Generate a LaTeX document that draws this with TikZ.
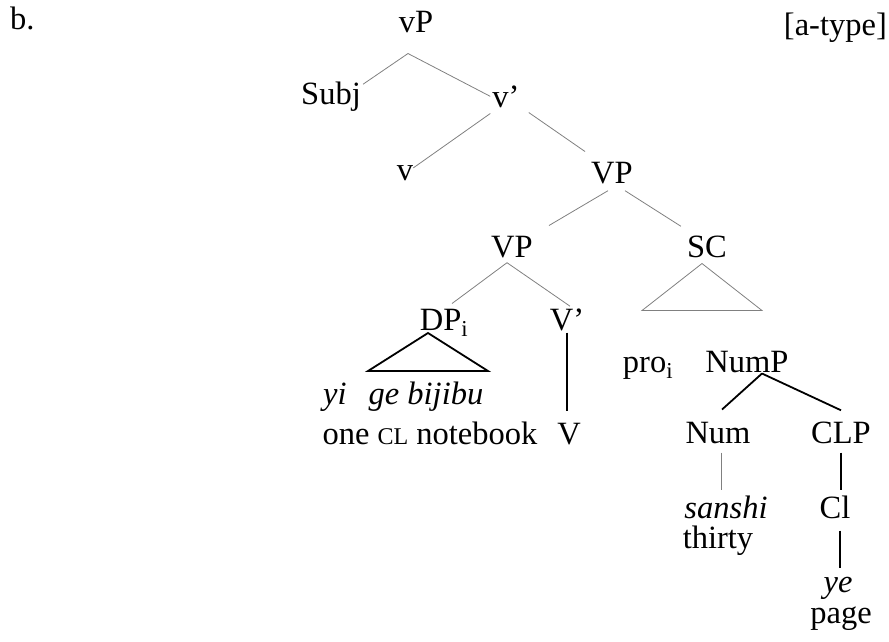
\documentclass[tikz,border=0pt]{standalone}
\usepackage{fontspec}
\setmainfont{Liberation Serif}
\begin{document}
\begin{tikzpicture}[x=1pt, y=-1pt,
    every node/.style={anchor=base, inner sep=2pt, font=\fontsize{32.5}{38}\selectfont},
    branch/.style={draw=black!50, line width=0.8pt},
    stem/.style={draw=black, line width=1.8pt}]
    \useasboundingbox (0,0) rectangle (889,641);
    \node[anchor=base west] (label) at (8,29) {b.};
    \node[anchor=base east] (type) at (889,35) {[a-type]};
    \node (vP) at (416,32) {vP};
    \node (Subj) at (331,104) {Subj};
    \node (vbar) at (506,107) {v’};
    \node (v) at (405,180) {v};
    \node (VPa) at (612,183) {VP};
    \node (VPb) at (512,257) {VP};
    \node (SC) at (707,257) {SC};
    \node (DP) at (444,330) {DP\textsubscript{i}};
    \node (Vbar) at (567,330) {V’};
    \node (pro) at (648,372) {pro\textsubscript{i}};
    \node (NumP) at (747,372) {NumP};
    \node[anchor=base west] (obj) at (321,404) {\itshape yi\hspace{22pt}ge bijibu};
    \node (gloss) at (430,444) {one {\fontsize{24}{24}\selectfont CL} notebook};
    \node (V) at (569,444) {V};
    \node (Num) at (718,443) {Num};
    \node (CLP) at (841,443) {CLP};
    \node (sanshi) at (726,518) {\itshape sanshi};
    \node (thirty) at (718,548) {thirty};
    \node (Cl) at (835,518) {Cl};
    \node (ye) at (838,592) {\itshape ye};
    \node (page) at (841,623) {page};
    \draw[branch] ([xshift=-8pt,yshift=-19pt]vP.south) -- ([yshift=-5pt]Subj.north east);
    \draw[branch] ([xshift=-8pt,yshift=-19pt]vP.south) -- (vbar.west);
    \draw[branch] ([yshift=-4pt]vbar.south west) -- ([xshift=-2pt,yshift=-5pt]v.north east);
    \draw[branch] ([xshift=7pt,yshift=-3pt]vbar.south east) -- ([xshift=-4pt,yshift=8pt]VPa.north west);
    \draw[branch] ([xshift=-4pt,yshift=-5pt]VPa.south) -- ([xshift=14pt,yshift=8pt]VPb.north east);
    \draw[branch] ([xshift=13pt,yshift=-5pt]VPa.south) -- ([xshift=-4pt,yshift=7pt]SC.north west);
    \draw[branch] ([xshift=-5pt,yshift=-3pt]VPb.south) -- ([xshift=8pt,yshift=3pt]DP.north);
    \draw[branch] ([xshift=-5pt,yshift=-3pt]VPb.south) -- ([xshift=3pt]Vbar.north);
    \draw[branch] ([xshift=-5pt,yshift=-4pt]SC.south) -- ++(-60,47) -- ++(120,0) -- cycle;
    \draw[stem] ([xshift=-16pt,yshift=-3pt]DP.base) -- ++(-60,38) -- ++(120,0) -- cycle;
    \draw[stem] (Vbar.south) -- ([yshift=10pt]Vbar.south |- V.north);
    \draw[stem] ([xshift=15pt,yshift=1pt]NumP.south) -- ([xshift=4pt,yshift=10pt]Num.north);
    \draw[stem] ([xshift=15pt,yshift=1pt]NumP.south) -- ([yshift=9pt]CLP.north);
    \draw[branch] ([xshift=3pt,yshift=-7pt]Num.south) -- ([xshift=3pt,yshift=3pt]Num.south |- sanshi.north);
    \draw[stem] ([yshift=-7pt]CLP.south) -- ([yshift=3pt]CLP.south |- Cl.north);
    \draw[stem] ([xshift=5pt,yshift=-10pt]Cl.south) -- ([xshift=5pt,yshift=6pt]Cl.south |- ye.north);
  \end{tikzpicture}
\end{document}
